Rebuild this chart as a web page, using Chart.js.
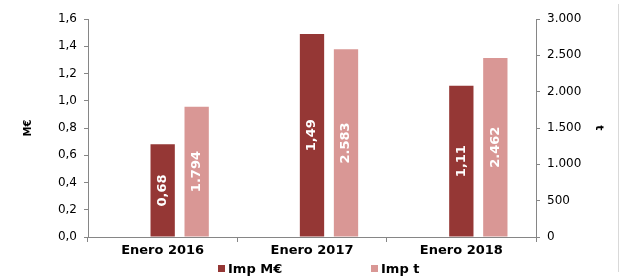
<!DOCTYPE html>
<html>
<head>
<meta charset="utf-8">
<script src="https://cdn.jsdelivr.net/npm/chart.js@4/dist/chart.umd.min.js"></script>
<style>
  body { margin: 0; background: #fff; }
  #wrap { position: relative; width: 623px; height: 278px; }
  #frame { position: absolute; left: 618px; top: 4px; width: 1px; height: 268px; background: #d9d9d9; }
  #legend { position: absolute; top: 261px; left: 0; width: 623px; height: 16px;
            font: bold 13px "DejaVu Sans", Verdana, sans-serif; color: #000; }
  #legend span.item { position: absolute; top: 0; white-space: nowrap; }
  #legend i { display: inline-block; width: 7px; height: 7px; margin-right: 3px; vertical-align: 1px; }
</style>
</head>
<body>
<div id="wrap">
  <canvas id="chart" width="623" height="278"></canvas>
  <div id="frame"></div>
  <div id="legend"></div>
</div>
<script>
var categories = ['Enero 2016', 'Enero 2017', 'Enero 2018'];
var impMEur = [0.68, 1.49, 1.11];
var impT = [1794, 2583, 2462];
var seriesNames = ['Imp M\u20ac', 'Imp t'];
var seriesColors = ['#953735', '#D99795'];

function fmtEur(v) { return v.toFixed(2).replace('.', ','); }
function fmtT(v) { return Math.round(v).toString().replace(/\B(?=(\d{3})+(?!\d))/g, '.'); }

var font = '"DejaVu Sans", Verdana, sans-serif';

// labels inside bars, rotated
var barLabels = {
    id: 'barLabels',
    afterDatasetsDraw: function (chart) {
        var ctx = chart.ctx;
        chart.data.datasets.forEach(function (ds, i) {
            if (!ds.fmt) return;
            var meta = chart.getDatasetMeta(i);
            meta.data.forEach(function (bar, j) {
                ctx.save();
                ctx.translate(bar.x, (bar.y + bar.base) / 2);
                ctx.rotate(-Math.PI / 2);
                ctx.fillStyle = '#fff';
                ctx.font = 'bold 13px ' + font;
                ctx.textAlign = 'center';
                ctx.textBaseline = 'middle';
                ctx.fillText(ds.fmt(ds.data[j]), 0, 0);
                ctx.restore();
            });
        });
    }
};

var chart = new Chart(document.getElementById('chart'), {
    type: 'bar',
    data: {
        labels: categories,
        datasets: [
            { label: '', data: [null, null, null], yAxisID: 'y' },
            { label: seriesNames[0], data: impMEur, backgroundColor: seriesColors[0], yAxisID: 'y', fmt: fmtEur },
            { label: seriesNames[1], data: impT, backgroundColor: seriesColors[1], yAxisID: 'y2', fmt: fmtT }
        ]
    },
    options: {
        responsive: false,
        animation: false,
        categoryPercentage: 0.683,
        barPercentage: 0.715,
        layout: { padding: { top: 19, bottom: 20, left: 0, right: 0 } },
        plugins: { legend: { display: false }, tooltip: { enabled: false } },
        scales: {
            x: {
                offset: true,
                grid: { offset: true, drawOnChartArea: false, color: '#868686', tickLength: 5 },
                border: { color: '#868686' },
                ticks: { color: '#000', font: { family: font, size: 13, weight: 'bold' }, padding: 1, maxRotation: 0 },
                afterFit: function (s) { s.height = 21; }
            },
            y: {
                position: 'left',
                min: 0, max: 1.6,
                ticks: { stepSize: 0.2, color: '#000', font: { family: font, size: 12 }, padding: 7,
                         callback: function (v) { return v.toFixed(1).replace('.', ','); } },
                grid: { drawOnChartArea: false, color: '#868686', tickLength: 4 },
                border: { color: '#868686' },
                title: { display: true, text: 'M\u20ac', color: '#000', font: { family: font, size: 10, weight: 'bold' }, padding: { top: 22, bottom: 0 } },
                afterFit: function (s) { s.width = 88; }
            },
            y2: {
                position: 'right',
                min: 0, max: 3000,
                ticks: { stepSize: 500, color: '#000', font: { family: font, size: 12 }, padding: 7,
                         callback: function (v) { return fmtT(v); } },
                grid: { drawOnChartArea: false, color: '#868686', tickLength: 4 },
                border: { color: '#868686' },
                title: { display: true, text: 't', color: '#000', font: { family: font, size: 11, weight: 'bold' }, padding: { top: 18, bottom: 0 } },
                afterFit: function (s) { s.width = 87; }
            }
        }
    },
    plugins: [barLabels]
});

// legend
var legend = document.getElementById('legend');
var legendLeft = [218, 371];
seriesNames.forEach(function (name, i) {
    var item = document.createElement('span');
    item.className = 'item';
    item.style.left = legendLeft[i] + 'px';
    item.innerHTML = '<i style="background:' + seriesColors[i] + '"></i>' + name;
    legend.appendChild(item);
});
</script>
</body>
</html>
